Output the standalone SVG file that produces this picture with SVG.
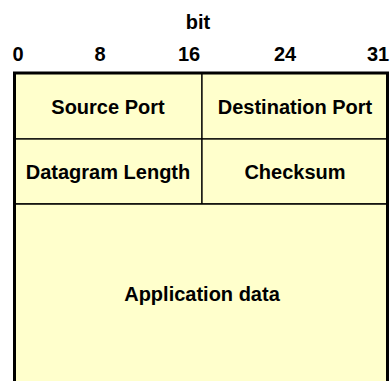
<svg xmlns="http://www.w3.org/2000/svg" width="390" height="381" viewBox="0 0 390 381">
<style>
text{font-family:"Liberation Sans",Arial,sans-serif;font-weight:bold;font-size:20px;fill:#000;text-anchor:middle}
.cell{fill:#FFFFCC;stroke:#000;stroke-width:1.3}
.border{fill:none;stroke:#000;stroke-width:3}
</style>
<rect x="0" y="0" width="390" height="381" fill="#fff"/>
<g id="header">
<text x="198" y="29">bit</text>
<text x="18" y="61">0</text>
<text x="100" y="61">8</text>
<text x="189" y="61">16</text>
<text x="285" y="61">24</text>
<text x="378" y="61">31</text>
</g>
<g id="source-port"><rect class="cell" x="15" y="73" width="187" height="66"/><text x="108" y="114">Source Port</text></g>
<g id="destination-port"><rect class="cell" x="202" y="73" width="186" height="66"/><text x="295" y="114">Destination Port</text></g>
<g id="datagram-length"><rect class="cell" x="15" y="139" width="187" height="65"/><text x="108" y="179">Datagram Length</text></g>
<g id="checksum"><rect class="cell" x="202" y="139" width="186" height="65"/><text x="295" y="179">Checksum</text></g>
<g id="application-data"><rect x="15" y="204" width="373" height="180" fill="#FFFFCC"/><line x1="15" y1="204" x2="388" y2="204" stroke="#000" stroke-width="1.3"/><text x="202" y="301">Application data</text></g>
<g id="connectors">
<path class="border" d="M14.5,382 V73 H387.5 V382"/>
</g>
</svg>
